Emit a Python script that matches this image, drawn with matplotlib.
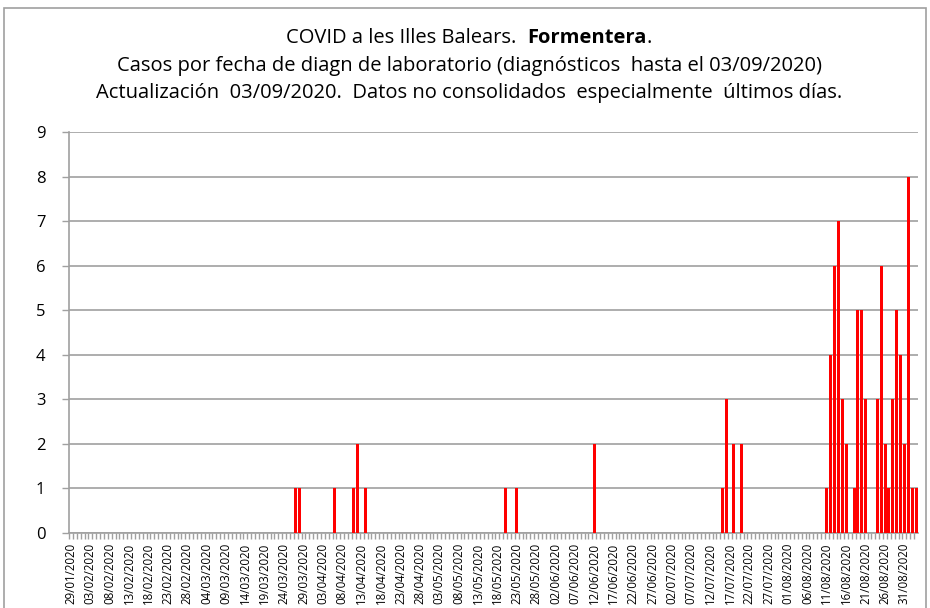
import datetime as dt
import matplotlib
matplotlib.use("Agg")
import matplotlib.pyplot as plt
from matplotlib.patches import Rectangle

plt.rcParams['font.family'] = ['Open Sans', 'Noto Sans', 'DejaVu Sans']

# daily cases, 29/01/2020 .. 03/09/2020
jan = [0, 0, 0]
feb = [0] * 29
mar = [0] * 26 + [1, 1] + [0] * 3
apr = [0, 0, 0, 0, 0, 1, 0, 0, 0, 0, 1, 2, 0, 1, 0,
       0, 0, 0, 0, 0, 0, 0, 0, 0, 0, 0, 0, 0, 0, 0]
may = [0] * 19 + [1, 0, 0, 1] + [0] * 8
jun = [0] * 11 + [2] + [0] * 18
jul = [0] * 14 + [1, 3, 0, 2, 0, 2] + [0] * 11
aug = [0] * 10 + [1, 4, 6, 7, 3, 2, 0, 1, 5, 5, 3, 0, 0, 3, 6, 2, 1, 3, 5, 4, 2]
sep = [8, 1, 1]
cases = jan + feb + mar + apr + may + jun + jul + aug + sep

start = dt.date(2020, 1, 29)
dates = [start + dt.timedelta(days=i) for i in range(len(cases))]
labels = [d.strftime("%d/%m/%Y") for d in dates]

fig = plt.figure(figsize=(9.3, 6.08), dpi=100)
ax = fig.add_axes([69/930, 1 - 533/608, (918-69)/930, (533-132)/608])

x = list(range(len(cases)))
ax.bar(x, cases, width=0.78, color='#ff0000', zorder=3)

ax.set_xlim(-0.5, len(cases) - 0.5)
ax.set_ylim(0, 9)
ax.set_yticks(range(0, 10))
ax.yaxis.grid(True, color='#a0a0a0', linewidth=1.2, zorder=0)

ax.set_xticks(x[::5])
ax.set_xticklabels(labels[::5], rotation=90, fontsize=8.3, va='top')
ax.set_xticks([i - 0.5 for i in x], minor=True)
ax.tick_params(axis='x', which='major', length=0, pad=7)
ax.tick_params(axis='x', which='minor', length=4, color='#a0a0a0', width=1)
ax.tick_params(axis='y', length=5, color='#a0a0a0', width=1, pad=12, labelsize=12)

for s in ['top', 'right']:
    ax.spines[s].set_visible(False)
for s in ['left', 'bottom']:
    ax.spines[s].set_color('#a0a0a0')
    ax.spines[s].set_linewidth(1.2)

# outer chart border
fig.patches.append(Rectangle((4/930, -0.05), 922/930, 1 - 8/608 + 0.05,
                             transform=fig.transFigure, fill=False,
                             edgecolor='#a0a0a0', linewidth=1.2))

fs = 14.5
cx = 469 / 930
fig.canvas.draw()
r = fig.canvas.get_renderer()
t1 = fig.text(0, 1 - 38/608, "COVID a les Illes Balears.  ", fontsize=fs, va='center')
t2 = fig.text(0, 1 - 38/608, "Formentera", fontsize=fs, va='center', fontweight='bold')
t3 = fig.text(0, 1 - 38/608, ".", fontsize=fs, va='center')
w1 = t1.get_window_extent(r).width
w2 = t2.get_window_extent(r).width
w3 = t3.get_window_extent(r).width
x0 = cx * 930 - (w1 + w2 + w3) / 2
t1.set_x(x0 / 930)
t2.set_x((x0 + w1) / 930)
t3.set_x((x0 + w1 + w2) / 930)

fig.text(cx, 1 - 66/608,
         "Casos por fecha de diagn de laboratorio (diagnósticos  hasta el 03/09/2020)",
         fontsize=fs, ha='center', va='center')
fig.text(cx, 1 - 93/608,
         "Actualización  03/09/2020.  Datos no consolidados  especialmente  últimos días.",
         fontsize=fs, ha='center', va='center')

fig.savefig("out.png", dpi=100)
